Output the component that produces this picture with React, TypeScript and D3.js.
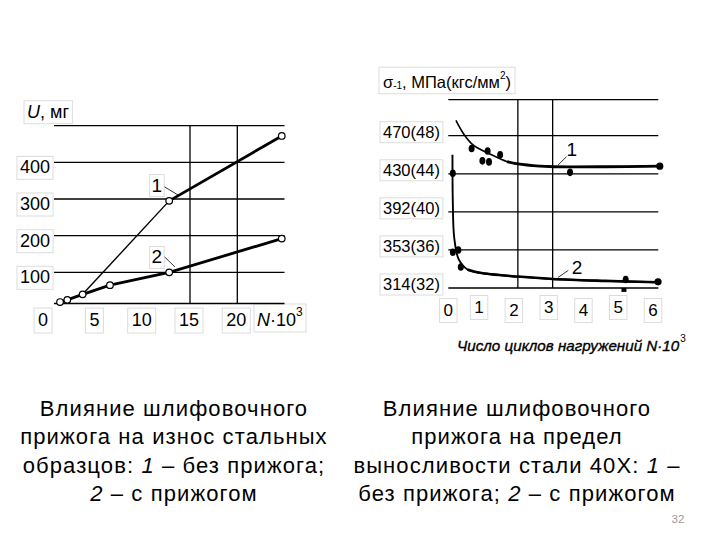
import React, { useEffect, useRef } from "react";
import * as d3 from "d3";

// ---------- Left chart: wear U (mg) vs N·10^3 ----------
const wearXTicks = [0, 5, 10, 15, 20];
const wearYTicks = [100, 200, 300, 400];
const wearGrid = [100, 200, 300, 400, 500];
const wearVLines = [15, 20];
const wearBaseValue = 15;
const wear1 = [
  { x: 1.26, y: 19 },
  { x: 2.03, y: 25 },
  { x: 3.65, y: 40 },
  { x: 12.8, y: 295 },
  { x: 24.7, y: 472 },
];
const wear2 = [
  { x: 1.26, y: 19 },
  { x: 2.03, y: 25 },
  { x: 3.65, y: 40 },
  { x: 6.54, y: 65 },
  { x: 12.8, y: 100 },
  { x: 24.7, y: 192 },
];
const wearLabels = [
  { text: "1", x: 11.5, y: 338, ax: 12.0, ay: 333, bx: 13.8, by: 310 },
  { text: "2", x: 11.5, y: 142, ax: 12.0, ay: 142, bx: 13.4, by: 115 },
];

// ---------- Right chart: endurance limit vs N·10^3 ----------
const endXTicks = [0, 1, 2, 3, 4, 5, 6];
const endYTicks = [
  { kgf: 48, mpa: 470 },
  { kgf: 44, mpa: 430 },
  { kgf: 40, mpa: 392 },
  { kgf: 36, mpa: 353 },
  { kgf: 32, mpa: 314 },
];
const endGrid = [32, 36, 40, 44, 48, 51.8];
const endVLines = [2, 3];
const end1Curve = [
  { x: 0.22, y: 49.6 },
  { x: 0.43, y: 48.25 },
  { x: 0.72, y: 47.0 },
  { x: 1.2, y: 46.07 },
  { x: 1.69, y: 45.27 },
  { x: 2.0, y: 45.03 },
  { x: 2.63, y: 44.8 },
  { x: 3.02, y: 44.74 },
  { x: 4.5, y: 44.74 },
  { x: 6.08, y: 44.8 },
];
const end1Points = [
  { x: 0.67, y: 46.65 },
  { x: 1.13, y: 46.4 },
  { x: 0.98, y: 45.36 },
  { x: 1.17, y: 45.25 },
  { x: 1.49, y: 46.0 },
  { x: 3.5, y: 44.15 },
];
const end1Last = { x: 6.08, y: 44.8 };
const end2Curve = [
  { x: 0.12, y: 46.0 },
  { x: 0.13, y: 41.0 },
  { x: 0.17, y: 37.3 },
  { x: 0.3, y: 35.0 },
  { x: 0.55, y: 33.95 },
  { x: 0.9, y: 33.6 },
  { x: 2.0, y: 33.2 },
  { x: 3.0, y: 32.95 },
  { x: 4.5, y: 32.75 },
  { x: 6.03, y: 32.6 },
];
const end2Points = [
  { x: 0.13, y: 44.05 },
  { x: 0.13, y: 35.75 },
  { x: 0.29, y: 36.0 },
  { x: 0.36, y: 34.2 },
  { x: 5.1, y: 32.9 },
];
const end2Last = { x: 6.03, y: 32.65 };
const end2Square = { x: 5.05, y: 31.8 };
const endLabels = [
  { text: "1", x: 3.55, y: 46.6, ax: 3.15, ay: 44.9, bx: 3.4, by: 45.8 },
  { text: "2", x: 3.7, y: 34.15, ax: 3.15, ay: 33.1, bx: 3.45, by: 33.85 },
];

const captionLeft = [
  [{ t: "Влияние шлифовочного" }],
  [{ t: "прижога на износ стальных" }],
  [{ t: "образцов: " }, { t: "1", i: true }, { t: " – без прижога;" }],
  [{ t: "2", i: true }, { t: " – с прижогом" }],
];
const captionRight = [
  [{ t: "Влияние шлифовочного" }],
  [{ t: "прижога на предел" }],
  [{ t: "выносливости стали 40Х: " }, { t: "1", i: true }, { t: " –" }],
  [{ t: "без прижога; " }, { t: "2", i: true }, { t: " – с прижогом" }],
];
const pageNumber = "32";

const FONT = "'Liberation Sans', Arial, sans-serif";

export default function App() {
  const ref = useRef<SVGSVGElement | null>(null);

  useEffect(() => {
    const svg = d3.select(ref.current);
    svg.selectAll("*").remove();
    const boxLayer = svg.append("g");
    const root = svg.append("g");

    const boxed = (sel: any, pad = 3) => {
      const node = sel.node() as SVGGraphicsElement;
      const b = node.getBBox();
      boxLayer
        .append("rect")
        .attr("x", b.x - pad)
        .attr("y", b.y - pad + 2)
        .attr("width", b.width + pad * 2)
        .attr("height", b.height + pad * 2 - 3)
        .attr("fill", "none")
        .attr("stroke", "#dcdcdc")
        .attr("stroke-width", 1);
    };

    // ================= LEFT CHART =================
    const xL = d3.scaleLinear().domain([0, 25]).range([48.1, 284.6]);
    const yL = d3.scaleLinear().domain([0, 500]).range([309, 125.7]);
    const gL = root.append("g");
    const leftEdge = 54;
    const rightEdge = 284.5;

    gL.selectAll("line.grid")
      .data(wearGrid)
      .join("line")
      .attr("x1", leftEdge)
      .attr("x2", rightEdge)
      .attr("y1", (d) => yL(d))
      .attr("y2", (d) => yL(d))
      .attr("stroke", "#000")
      .attr("stroke-width", 1.3);
    gL.append("line")
      .attr("x1", leftEdge)
      .attr("x2", rightEdge)
      .attr("y1", yL(wearBaseValue))
      .attr("y2", yL(wearBaseValue))
      .attr("stroke", "#000")
      .attr("stroke-width", 1.3);
    gL.selectAll("line.v")
      .data(wearVLines)
      .join("line")
      .attr("x1", (d) => xL(d))
      .attr("x2", (d) => xL(d))
      .attr("y1", yL(500))
      .attr("y2", yL(wearBaseValue))
      .attr("stroke", "#000")
      .attr("stroke-width", 1.3);

    const lineL = d3
      .line<{ x: number; y: number }>()
      .x((d) => xL(d.x))
      .y((d) => yL(d.y));
    gL.append("path")
      .attr("d", lineL(wear2))
      .attr("fill", "none")
      .attr("stroke", "#000")
      .attr("stroke-width", 2.8);
    gL.append("path")
      .attr("d", lineL(wear1.slice(2, 4)))
      .attr("fill", "none")
      .attr("stroke", "#000")
      .attr("stroke-width", 1.4);
    gL.append("path")
      .attr("d", lineL(wear1.slice(3)))
      .attr("fill", "none")
      .attr("stroke", "#000")
      .attr("stroke-width", 2.8);

    const allWear = [...wear1, ...wear2.filter((p) => !wear1.some((q) => q.x === p.x && q.y === p.y))];
    gL.selectAll("circle")
      .data(allWear)
      .join("circle")
      .attr("cx", (d) => xL(d.x))
      .attr("cy", (d) => yL(d.y))
      .attr("r", 3.3)
      .attr("fill", "#fff")
      .attr("stroke", "#000")
      .attr("stroke-width", 1.2);

    wearLabels.forEach((l) => {
      const t = gL.append("text")
        .attr("x", xL(l.x))
        .attr("y", yL(l.y))
        .attr("text-anchor", "middle")
        .attr("dominant-baseline", "central")
        .attr("font-family", FONT)
        .attr("font-size", 19)
        .text(l.text);
      boxed(t, 2);
      gL.append("line")
        .attr("x1", xL(l.ax) + 3)
        .attr("y1", yL(l.ay))
        .attr("x2", xL(l.bx))
        .attr("y2", yL(l.by))
        .attr("stroke", "#000")
        .attr("stroke-width", 0.8);
    });

    wearYTicks.forEach((v) => {
      const t = gL.append("text")
        .attr("x", 50)
        .attr("y", yL(v) + 5)
        .attr("text-anchor", "end")
        .attr("dominant-baseline", "central")
        .attr("font-family", FONT)
        .attr("font-size", 18)
        .text(String(v));
      boxed(t, 3);
    });
    wearXTicks.forEach((v) => {
      const t = gL.append("text")
        .attr("x", xL(v) - (v === 0 ? 5 : 1))
        .attr("y", 320)
        .attr("text-anchor", "middle")
        .attr("dominant-baseline", "central")
        .attr("font-family", FONT)
        .attr("font-size", 18)
        .text(String(v));
      boxed(t, 4);
    });
    {
      const t = gL.append("text")
        .attr("x", 257)
        .attr("y", 320)
        .attr("dominant-baseline", "central")
        .attr("font-family", FONT)
        .attr("font-size", 18);
      t.append("tspan").attr("font-style", "italic").text("N");
      t.append("tspan").text("·10");
      t.append("tspan").attr("font-size", 12).attr("dy", -8).text("3");
      boxed(t, 3);
    }
    {
      const t = gL.append("text")
        .attr("x", 27)
        .attr("y", 111.7)
        .attr("dominant-baseline", "central")
        .attr("font-family", FONT)
        .attr("font-size", 18);
      t.append("tspan").attr("font-style", "italic").text("U");
      t.append("tspan").text(", мг");
      boxed(t, 3);
    }

    // ================= RIGHT CHART =================
    const xR = d3.scaleLinear().domain([0, 6]).range([448.3, 657]);
    const yR = d3.scaleLinear().domain([32, 48]).range([288, 135.7]);
    const gR = root.append("g");
    const rLeft = 448.3;
    const rRight = 658.3;

    gR.selectAll("line.grid")
      .data(endGrid)
      .join("line")
      .attr("x1", rLeft)
      .attr("x2", rRight)
      .attr("y1", (d) => yR(d))
      .attr("y2", (d) => yR(d))
      .attr("stroke", "#000")
      .attr("stroke-width", 1.3);
    gR.selectAll("line.v")
      .data(endVLines)
      .join("line")
      .attr("x1", (d) => xR(d))
      .attr("x2", (d) => xR(d))
      .attr("y1", yR(51.8))
      .attr("y2", yR(32))
      .attr("stroke", "#000")
      .attr("stroke-width", 1.3);

    const lineR = d3
      .line<{ x: number; y: number }>()
      .x((d) => xR(d.x))
      .y((d) => yR(d.y))
      .curve(d3.curveCatmullRom.alpha(0.5));

    gR.append("path")
      .attr("d", lineR(end1Curve))
      .attr("fill", "none")
      .attr("stroke", "#000")
      .attr("stroke-width", 1.6);
    gR.append("path")
      .attr("d", lineR(end1Curve.slice(4)))
      .attr("fill", "none")
      .attr("stroke", "#000")
      .attr("stroke-width", 2.8);
    gR.append("path")
      .attr("d", lineR(end2Curve))
      .attr("fill", "none")
      .attr("stroke", "#000")
      .attr("stroke-width", 1.9);
    gR.append("path")
      .attr("d", lineR(end2Curve.slice(4)))
      .attr("fill", "none")
      .attr("stroke", "#000")
      .attr("stroke-width", 2.6);

    gR.selectAll("ellipse.p")
      .data([...end1Points, ...end2Points])
      .join("ellipse")
      .attr("cx", (d) => xR(d.x))
      .attr("cy", (d) => yR(d.y))
      .attr("rx", 3)
      .attr("ry", 3.8)
      .attr("fill", "#000");
    gR.selectAll("circle.last")
      .data([end1Last, end2Last])
      .join("circle")
      .attr("cx", (d) => xR(d.x))
      .attr("cy", (d) => yR(d.y))
      .attr("r", 3.6)
      .attr("fill", "#000");
    gR.append("rect")
      .attr("x", xR(end2Square.x) - 2.5)
      .attr("y", yR(end2Square.y) - 2)
      .attr("width", 5)
      .attr("height", 4)
      .attr("fill", "#000");

    endLabels.forEach((l) => {
      gR.append("text")
        .attr("x", xR(l.x))
        .attr("y", yR(l.y))
        .attr("text-anchor", "middle")
        .attr("dominant-baseline", "central")
        .attr("font-family", FONT)
        .attr("font-size", 19)
        .text(l.text);
      gR.append("line")
        .attr("x1", xR(l.ax))
        .attr("y1", yR(l.ay))
        .attr("x2", xR(l.bx))
        .attr("y2", yR(l.by))
        .attr("stroke", "#000")
        .attr("stroke-width", 0.8);
    });

    endYTicks.forEach((d) => {
      const t = gR.append("text")
        .attr("x", 383)
        .attr("y", yR(d.kgf) - 4)
        .attr("dominant-baseline", "central")
        .attr("font-family", FONT)
        .attr("font-size", 16.5)
        .text(`${d.mpa}(${d.kgf})`);
      boxed(t, 3);
    });
    endXTicks.forEach((v, i) => {
      const t = gR.append("text")
        .attr("x", xR(v) - (v === 0 ? 0 : 4))
        .attr("y", 308 + (i % 2 === 0 ? 2 : -1))
        .attr("text-anchor", "middle")
        .attr("dominant-baseline", "central")
        .attr("font-family", FONT)
        .attr("font-size", 17)
        .text(String(v));
      boxed(t, 4);
    });
    {
      const t = gR.append("text")
        .attr("x", 383)
        .attr("y", 81.7)
        .attr("dominant-baseline", "central")
        .attr("font-family", FONT)
        .attr("font-size", 16.5);
      t.append("tspan").text("σ");
      t.append("tspan").attr("font-size", 10).attr("dy", 3).text("-1");
      t.append("tspan").attr("dy", -3).text(", МПа(кгс/мм");
      t.append("tspan").attr("font-size", 10).attr("dy", -7).text("2");
      t.append("tspan").attr("dy", 7).text(")");
      boxed(t, 4);
    }
    {
      const t = gR.append("text")
        .attr("x", 457)
        .attr("y", 345)
        .attr("dominant-baseline", "central")
        .attr("font-family", FONT)
        .attr("font-style", "italic")
        .attr("font-size", 15.2)
        .attr("stroke", "#000")
        .attr("stroke-width", 0.35);
      t.append("tspan").text("Число циклов нагружений N·10");
      t.append("tspan")
        .attr("font-size", 10)
        .attr("font-style", "normal")
        .attr("stroke-width", 0)
        .attr("dx", 1)
        .attr("dy", -7)
        .text("3");
    }

    // ================= CAPTIONS =================
    const drawCaption = (lines: any[], cx: number) => {
      lines.forEach((parts, i) => {
        const t = root.append("text")
          .attr("x", cx)
          .attr("y", 415.5 + i * 28.5)
          .attr("text-anchor", "middle")
          .attr("font-family", FONT)
          .attr("font-size", 22)
          .attr("letter-spacing", 1.1)
          .attr("fill", "#000");
        parts.forEach((p: any) => {
          t.append("tspan").attr("font-style", p.i ? "italic" : "normal").text(p.t);
        });
      });
    };
    drawCaption(captionLeft, 174);
    drawCaption(captionRight, 517);

    root.append("text")
      .attr("x", 678)
      .attr("y", 523)
      .attr("text-anchor", "middle")
      .attr("font-family", FONT)
      .attr("font-size", 11.5)
      .attr("fill", "#9a9a9a")
      .text(pageNumber);
  }, []);

  return (
    <svg
      ref={ref}
      width={720}
      height={540}
      style={{ position: "absolute", left: 0, top: 0, background: "#fff" }}
    />
  );
}
